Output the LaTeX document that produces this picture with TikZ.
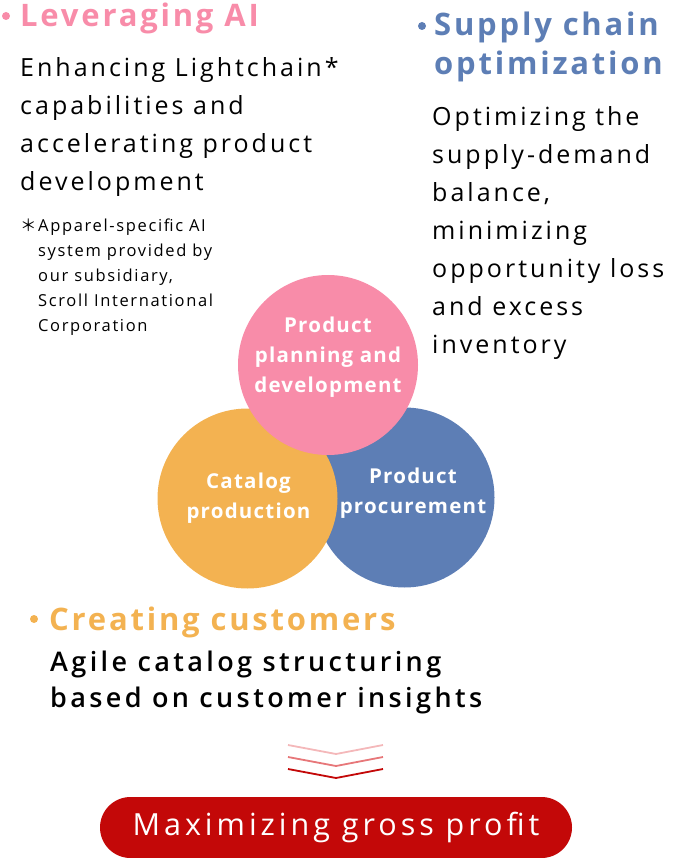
\documentclass[tikz,border=0pt]{standalone}
\usepackage{fontspec}
\setmainfont{Open Sans}[LetterSpace=12]
\newfontfamily\headfont{Open Sans}[LetterSpace=9]
\IfFontExistsTF{Open Sans SemiBold}{\newfontfamily\semifont{Open Sans SemiBold}[LetterSpace=12.5]}{%
  \IfFontExistsTF{Open Sans Semibold}{\newfontfamily\semifont{Open Sans Semibold}[LetterSpace=12.5]}{%
    \newfontfamily\semifont{Open Sans}[LetterSpace=10.5,UprightFeatures={FakeBold=1.2}]}}
\newfontfamily\markfont{Noto Sans CJK JP}
\definecolor{pinkc}{HTML}{F88CA9}
\definecolor{orangec}{HTML}{F3B251}
\definecolor{bluec}{HTML}{5D7EB5}
\definecolor{redc}{HTML}{C30808}
\definecolor{chevlight}{HTML}{F4B8BA}
\definecolor{chevmid}{HTML}{E77779}
\tikzset{
    head/.style={anchor=base west,inner sep=0pt,font=\fontsize{31}{39}\selectfont\headfont\bfseries},
    body/.style={anchor=north west,inner sep=0pt,align=left,font=\fontsize{25}{38}\selectfont},
    note/.style={anchor=north west,inner sep=0pt,align=left,font=\fontsize{16.5}{25}\selectfont\addfontfeatures{LetterSpace=10}},
    bubble/.style={circle,minimum size=180pt,inner sep=0pt},
    bubtext/.style={inner sep=0pt,align=center,text=white,font=\fontsize{20.5}{30}\selectfont\headfont\bfseries\addfontfeatures{LetterSpace=6}},
    chevron/.style={line width=1.8pt}
}
\begin{document}
\begin{tikzpicture}[x=1pt,y=-1pt]
\useasboundingbox (0,0) rectangle (672,858);

% Leveraging AI
\fill[pinkc] (6,16) circle (4);
\node[head,text=pinkc] (aiHead) at (20,26.7) {Leveraging AI};
\node[body] (aiBody) at (20,57) {Enhancing Lightchain*\\capabilities and\\accelerating product\\development};
\node[note,font=\fontsize{16.5}{25}\markfont] (aiMark) at (20,219) {＊};
\node[note] (aiNote) at (38,219) {Apparel-specific AI\\system provided by\\our subsidiary,\\Scroll International\\Corporation};

% Supply chain optimization
\fill[bluec] (422,26) circle (4);
\node[head,text=bluec] (scHead) at (434,36) {Supply chain};
\node[head,text=bluec] (scHeadB) at (434,75) {optimization};
\node[body] (scBody) at (432,106.5) {Optimizing the\\supply-demand\\balance,\\minimizing\\opportunity loss\\and excess\\inventory};

% circles
\node[bubble,fill=bluec] (procure) at (404.5,497.5) {};
\node[bubble,fill=orangec] (catalog) at (247.5,498.5) {};
\node[bubble,fill=pinkc] (planning) at (328,365) {};
\node[bubtext] (planningText) at (328,357) {Product\\planning and\\development};
\node[bubtext] (catalogText) at (248.5,498.5) {Catalog\\production};
\node[bubtext] (procureText) at (413,493) {Product\\procurement};

% Creating customers
\fill[orangec] (34,619) circle (4);
\node[head,text=orangec] (ccHead) at (49,630.7) {Creating customers};
\node[body,font=\fontsize{27}{36}\selectfont\semifont] (ccBody) at (50,650.5) {Agile catalog structuring\\based on customer insights};

% chevrons
\draw[chevron,chevlight] (288,745) -- (336,754) -- (383,745);
\draw[chevron,chevmid] (288,757) -- (336,766) -- (383,757);
\draw[chevron,redc] (288,769) -- (336,778) -- (383,769);

% goal
\node[fill=redc,rounded corners=30.5pt,minimum width=472pt,minimum height=61pt,inner sep=0pt,
      text=white,font=\fontsize{30.5}{36}\selectfont\addfontfeatures{LetterSpace=13}] (goal) at (336,827.5) {Maximizing gross profit};
\end{tikzpicture}
\end{document}
